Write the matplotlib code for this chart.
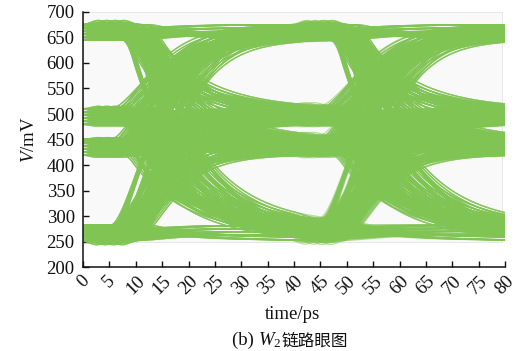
import itertools
import numpy as np
import matplotlib
matplotlib.use("Agg")
import matplotlib.pyplot as plt
from matplotlib.collections import LineCollection
from matplotlib.patches import Rectangle
from matplotlib.offsetbox import TextArea, HPacker, AnchoredOffsetbox

# PAM4 amplitude levels (mV) and the spread of traces around each level
levels = [267, 435, 495, 660]
level_offsets = [-15, -9, -3, 3, 9, 15]
# symbol boundaries inside the 80 ps window, and edge jitter (ps)
edge_times = [7.5, 47.0]
fall_delay = 2.3
edge_jitter = [-2.4, -0.8, 0.8, 2.4]
tau_rise = 4.8     # second-order rising edge
tau_fall = 10.0    # first-order falling edge with a short ramp
ramp = 2.0
precursor = 0.02

x_ticks = list(range(0, 85, 5))
y_ticks = list(range(200, 750, 50))

plt.rcParams["font.family"] = ["Liberation Serif", "DejaVu Serif"]
plt.rcParams["mathtext.fontset"] = "custom"
plt.rcParams["mathtext.rm"] = "Liberation Serif"
plt.rcParams["mathtext.it"] = "Liberation Serif:italic"

t = np.linspace(0, 80, 401)


def rise_step(dt):
    x = np.clip(dt / tau_rise, 0, None)
    s = 1 - (1 + x) * np.exp(-x)
    return s - precursor * np.exp(-((dt + 2.5) / 1.8) ** 2)


def fall_step(dt):
    d = np.clip(dt, 0, None)
    early = (d - tau_fall * (1 - np.exp(-d / tau_fall))) / ramp
    late = 1 - tau_fall / ramp * (np.exp(-(d - ramp) / tau_fall) - np.exp(-d / tau_fall))
    s = np.where(d < ramp, early, late)
    return s - precursor * np.exp(-((dt + 4.5) / 1.8) ** 2)


def trace(seq, offs, jit):
    v = np.full_like(t, levels[seq[0]] + offs[0])
    for k in range(1, len(seq)):
        d = (levels[seq[k]] + offs[k]) - (levels[seq[k - 1]] + offs[k - 1])
        t0 = edge_times[k - 1] + jit[k - 1]
        if d > 0:
            v += d * rise_step(t - t0)
        else:
            v += d * fall_step(t - t0 - fall_delay)
    return v


segs = []
for seq in itertools.product(range(len(levels)), repeat=3):
    for m in range(len(level_offsets)):
        offs = [level_offsets[m], level_offsets[(m + 2) % 6], level_offsets[(m + 4) % 6]]
        for i in range(len(edge_jitter)):
            jit = [edge_jitter[i], edge_jitter[(i + 2) % 4]]
            segs.append(np.column_stack([t, trace(seq, offs, jit)]))

fig = plt.figure(figsize=(5.19, 3.51), dpi=100)
ax = fig.add_axes([0.160, 0.239, 0.813, 0.727])

ax.add_patch(Rectangle((0, 249), 79.5, 451, facecolor="#f9f9f9",
                       edgecolor="#e4e4e4", lw=0.6, zorder=0))
ax.add_collection(LineCollection(segs, colors="#80c454", linewidths=0.9,
                                 alpha=0.55, zorder=2))

ax.set_xlim(0, 80)
ax.set_ylim(200, 700)
ax.set_xticks(x_ticks)
ax.set_yticks(y_ticks)
ax.set_xticklabels([str(v) for v in x_ticks], rotation=45, ha="center", va="top")
ax.tick_params(direction="in", length=4, width=1, labelsize=13.5, colors="#111111")
ax.tick_params(axis="x", pad=4)
ax.tick_params(axis="y", pad=6)
for side in ("top", "right"):
    ax.spines[side].set_visible(False)
for side in ("left", "bottom"):
    ax.spines[side].set_linewidth(1.1)
    ax.spines[side].set_color("#111111")

ax.set_ylabel(r"$V$/mV", fontsize=13.5, labelpad=6, color="#111111")
fig.text(0.563, 0.103, "time/ps", ha="center", va="center", fontsize=13.5,
         color="#111111")

caption = HPacker(children=[
    TextArea("(b) ", textprops=dict(size=13.5, color="#111111")),
    TextArea(r"$W_2$", textprops=dict(size=13.5, color="#111111")),
    TextArea("链路眼图", textprops=dict(size=12, family="Noto Sans CJK SC",
                                     color="#111111")),
], align="baseline", pad=0, sep=0)
fig.add_artist(AnchoredOffsetbox(loc="center", child=caption, frameon=False, pad=0,
                                 borderpad=0, bbox_to_anchor=(0.559, 0.031),
                                 bbox_transform=fig.transFigure))

fig.savefig("out.png", dpi=100)
